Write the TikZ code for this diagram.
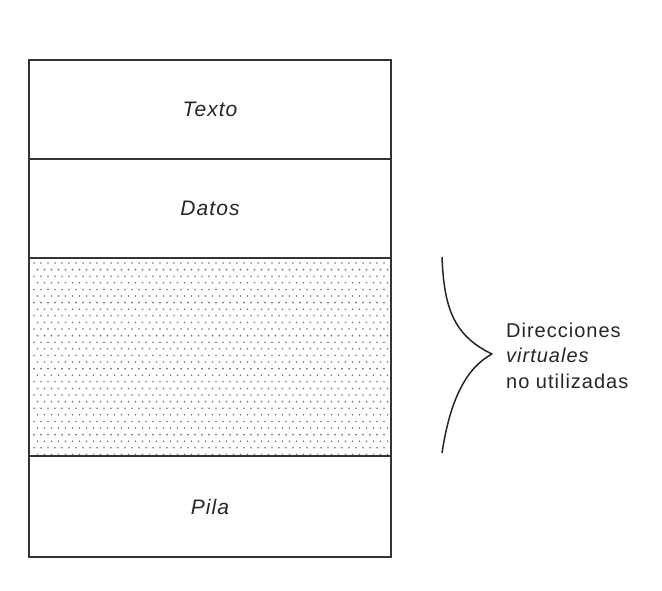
\documentclass[tikz,border=0pt]{standalone}
\usepackage{fontspec}
\setmainfont{Liberation Sans}[LetterSpace=5]
\begin{document}
\begin{tikzpicture}[x=1pt,y=-1pt,
  seg/.style={draw=black!80, line width=1.6pt},
  lbl/.style={font=\fontsize{21}{24}\selectfont\itshape, text=black!85},
  side/.style={font=\fontsize{20}{24}\selectfont, text=black!85, anchor=base west, inner sep=0pt}]
\useasboundingbox[fill=white] (0,0) rectangle (662,590);
% dotted fill of unused region
\foreach \r in {0,...,29}{
  \pgfmathsetmacro{\yy}{263+\r*6.6}
  \pgfmathsetmacro{\off}{mod(\r,2)*3.5}
  \foreach \c in {0,...,50}{
    \fill[black!55] ({34+\off+\c*7},\yy) circle (0.9);
  }
}
\node[seg, minimum width=362pt, minimum height=99pt, inner sep=0pt] (texto) at (210,109.5) {};
\node[seg, minimum width=362pt, minimum height=99pt, inner sep=0pt] (datos) at (210,208.5) {};
\node[seg, minimum width=362pt, minimum height=198pt, inner sep=0pt] (libre) at (210,357) {};
\node[seg, minimum width=362pt, minimum height=101pt, inner sep=0pt] (pila) at (210,506.5) {};
\node[lbl] (tTexto) at (texto.center) {Texto};
\node[lbl] (tDatos) at (datos.center) {Datos};
\node[lbl] (tPila) at (pila.center) {Pila};
% brace
\coordinate (btop) at (442,257);
\coordinate (btip) at (492,354);
\coordinate (bbot) at (442,453);
\draw[black!85, line width=1.5pt, line join=round] (btop) .. controls (444,305) and (452,335) .. (btip)
  .. controls (466,368) and (450,400) .. (bbot);
\node[side] (l1) at (506,337) {Direcciones};
\node[side] (l2) at (506,362) {\itshape virtuales};
\node[side] (l3) at (506,388) {no utilizadas};
\end{tikzpicture}
\end{document}
